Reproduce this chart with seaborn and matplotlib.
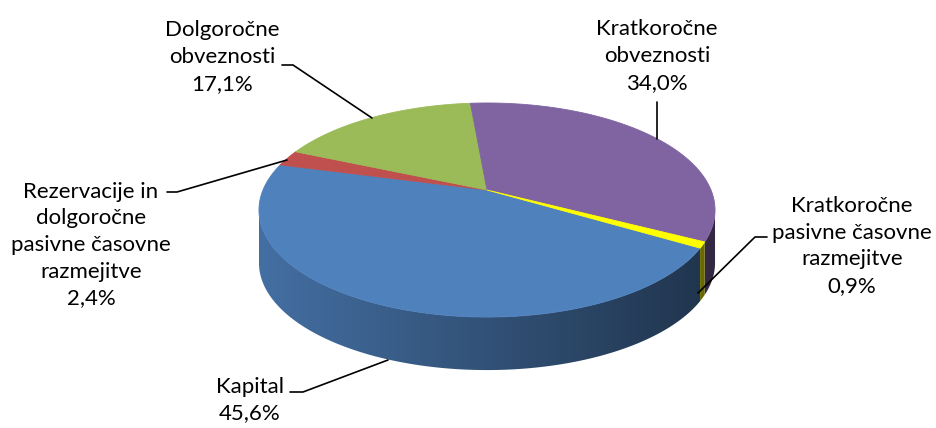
import numpy as np
import matplotlib
matplotlib.use("Agg")
import matplotlib.pyplot as plt
import seaborn as sns
from matplotlib.collections import PolyCollection
from matplotlib.patches import Polygon
from matplotlib.colors import to_rgb

# data
categories = ["Kapital",
              "Rezervacije in\ndolgoročne\npasivne časovne\nrazmejitve",
              "Dolgoročne\nobveznosti",
              "Kratkoročne\nobveznosti",
              "Kratkoročne\npasivne časovne\nrazmejitve"]
shares = [45.6, 2.4, 17.1, 34.0, 0.9]
colors = ["#4F81BD", "#C0504D", "#9BBB59", "#8064A2", "#FFFF00"]

# layout (pixel space of the picture)
cx, cy = 487, 190          # apex of the wedges
sx, sy = 224, 103.3        # radius scale
persp = 0.187              # perspective foreshortening
depth = 53
start = -30.6              # first slice starts here, clockwise

label_pos = [(250, 400), (91, 245), (222, 57), (657, 56), (852, 246)]
leaders = [[(290, 392), (303, 392), (388, 360)],
           [(167, 192), (177, 192), (287, 160)],
           [(282, 65), (293, 65), (372, 118)],
           [(657, 102), (657, 139)],
           [(767, 237), (755, 237), (698, 293)]]


def proj(theta):
    t = np.radians(theta)
    u, v = np.cos(t), np.sin(t)
    w = 1 + persp * v
    return cx + sx * u / w, cy - sy * v / w


sns.set_theme(style="white")
plt.rcParams["font.family"] = ["Lato", "DejaVu Sans"]

fig = plt.figure(figsize=(9.37, 4.28), dpi=100)
ax = fig.add_axes([0, 0, 1, 1])
ax.axis("off")

# wedge angle ranges
spans = np.array(shares) / sum(shares) * 360
hi = start - np.concatenate([[0], np.cumsum(spans)[:-1]])
lo = hi - spans

# visible front wall between the two silhouette points
edge = np.degrees(np.arcsin(-persp))
vis_lo, vis_hi = -180 - edge, edge
xl, _ = proj(vis_lo)
xr, _ = proj(vis_hi)
shade = np.linspace(0.86, 0.40, 200)

for i in range(len(shares)):
    base = np.array(to_rgb(colors[i]))
    for shift in (-360, 0, 360):
        a = max(lo[i] + shift, vis_lo)
        b = min(hi[i] + shift, vis_hi)
        if b <= a:
            continue
        ts = np.linspace(a, b, max(int((b - a) * 3), 3))
        xs, ys = proj(ts)
        outline = list(zip(xs, ys)) + list(zip(xs[::-1], ys[::-1] + depth))
        patch = Polygon(outline, closed=True, facecolor="none", edgecolor="none")
        ax.add_patch(patch)
        grad = np.clip(base[None, None, :] * shade[None, :, None], 0, 1)
        im = ax.imshow(grad, extent=(xl, xr, cy + sy * 2 + depth, cy - sy * 2),
                       aspect="auto", interpolation="bilinear", zorder=1)
        im.set_clip_path(patch)

top_polys = []
for i in range(len(shares)):
    ts = np.linspace(hi[i], lo[i], max(int(spans[i] * 2), 3))
    xs, ys = proj(ts)
    top_polys.append([(cx, cy)] + list(zip(xs, ys)))
ax.add_collection(PolyCollection(top_polys, facecolors=colors,
                                 edgecolors=colors, linewidths=0.6, zorder=2))

for i, name in enumerate(categories):
    pct = f"{shares[i]:.1f}".replace(".", ",") + "%"
    x, y = label_pos[i]
    ax.text(x, y, name + "\n" + pct, ha="center", va="center",
            fontsize=16, linespacing=1.42, color="black", zorder=3)
    pts = np.array(leaders[i])
    ax.plot(pts[:, 0], pts[:, 1], color="black", lw=1.2, zorder=3)

ax.set_xlim(0, 937)
ax.set_ylim(428, 0)
fig.savefig("out.png", dpi=100)
